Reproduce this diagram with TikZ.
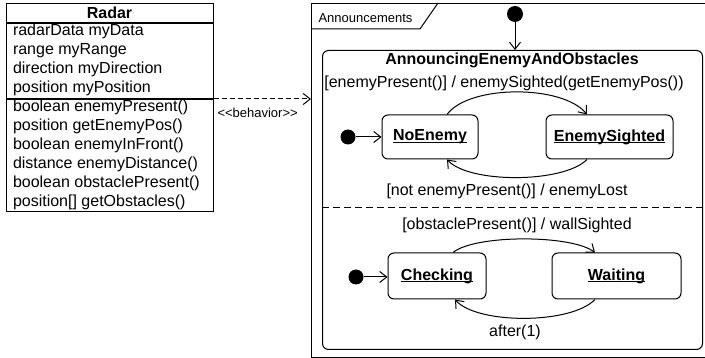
\documentclass[tikz,border=0pt]{standalone}
\usepackage{fontspec}
\setmainfont{Liberation Sans}
\usetikzlibrary{positioning,arrows.meta,calc}
% state names: bold, underlined just under the baseline
\newcommand{\stname}[1]{\setbox0\hbox{#1}\rlap{\rule[-2pt]{\wd0}{1pt}}\box0}

\begin{document}
\begin{tikzpicture}[x=1pt,y=-1pt,line width=1pt,>={Straight Barb[length=7pt,width=11pt]},
  cls/.style={draw,anchor=north west,minimum width=207pt,inner sep=0pt},
  member/.style={anchor=base west,inner sep=0pt,font=\fontsize{16}{19}\selectfont},
  st/.style={draw,fill=white,rounded corners=6pt,inner sep=0pt,font=\fontsize{16}{19}\selectfont\bfseries},
  init/.style={circle,fill,inner sep=0pt,minimum size=15pt},
  tlabel/.style={anchor=base,inner sep=0pt,font=\fontsize{16}{19}\selectfont},
  small/.style={anchor=base west,inner sep=0pt,font=\fontsize{13}{15}\selectfont}]
  \useasboundingbox (0,0) rectangle (705,358);

  % ---------------- class Radar ----------------
  \node[cls,minimum height=19pt] (radartitle) at (6,3) {};
  \node[anchor=base,inner sep=0pt,font=\fontsize{16}{19}\selectfont\bfseries] (radarname) at (109.5,18.3) {Radar};
  \node[cls,minimum height=75pt] (radarattr) at (radartitle.south west) {};
  \node[cls,minimum height=112pt] (radarops) at (radarattr.south west) {};
  \foreach \m [count=\i] in {radarData myData,range myRange,direction myDirection,position myPosition,
    boolean enemyPresent(),position getEnemyPos(),boolean enemyInFront(),distance enemyDistance(),
    boolean obstaclePresent(),position[] getObstacles()}
    \node[member] (m\i) at (12.5,{36+19*(\i-1)}) {\m};

  % ---------------- frame Announcements ----------------
  \node[draw,anchor=north west,minimum width=400pt,minimum height=354pt,inner sep=0pt] (frame) at (311,3) {};
  \draw (311,29) -- (420,29) -- (438,3);
  \node[small] (framename) at (318,22.5) {Announcements};

  \draw[->,dash pattern=on 5pt off 3pt] (radarops.north east) -- (radarops.north east -| frame.west);
  \node[small] (behav) at (217,118) {{<}{<}behavior{>}{>}};

  % composite state with two regions
  \node[init,minimum size=16pt] (init0) at (515,14) {};
  \node[draw,rounded corners=6pt,anchor=north west,minimum width=380pt,minimum height=299pt,inner sep=0pt] (aeo) at (322,50) {};
  \node[anchor=base,inner sep=0pt,font=\fontsize{16}{19}\selectfont\bfseries] (aeoname) at (512,65) {AnnouncingEnemyAndObstacles};
  \draw[->] (init0) -- (init0 |- aeo.north);
  \draw[dash pattern=on 7pt off 4pt] (aeo.west |- 0,208) -- (aeo.east |- 0,208);

  % region 1: enemy
  \node[st,minimum width=96pt,minimum height=44pt] (noenemy) at (430,137) {\stname{NoEnemy}};
  \node[st,minimum width=127pt,minimum height=44pt] (sighted) at (609.5,137) {\stname{EnemySighted}};
  \node[init] (init1) at (348,137) {};
  \draw[->] (init1) -- (noenemy.west);
  \draw[->] ([xshift=17pt]noenemy.north) .. controls +(22,-30) and +(-24,-30) .. ([xshift=-22.5pt]sighted.north);
  \draw[->] ([xshift=-22.5pt]sighted.south) .. controls +(-24,24) and +(22,24) .. ([xshift=17pt]noenemy.south);
  \node[tlabel] (t1) at (504,88) {[enemyPresent()] / enemySighted(getEnemyPos())};
  \node[tlabel] (t2) at (507,196) {[not enemyPresent()] / enemyLost};

  % region 2: obstacles
  \node[st,minimum width=98pt,minimum height=46pt] (checking) at (437,276) {\stname{Checking}};
  \node[st,minimum width=129pt,minimum height=46pt] (waiting) at (616.5,276) {\stname{Waiting}};
  \node[init] (init2) at (356,277) {};
  \draw[->] (init2) -- (init2 -| checking.west);
  \draw[->] ([xshift=16pt]checking.north) .. controls +(22,-18) and +(-24,-18) .. ([xshift=-21.5pt]waiting.north);
  \draw[->] ([xshift=-21.5pt]waiting.south) .. controls +(-24,25) and +(22,25) .. ([xshift=18pt]checking.south);
  \node[tlabel] (t3) at (517,230) {[obstaclePresent()] / wallSighted};
  \node[tlabel] (t4) at (515,336.5) {after(1)};
\end{tikzpicture}
\end{document}
